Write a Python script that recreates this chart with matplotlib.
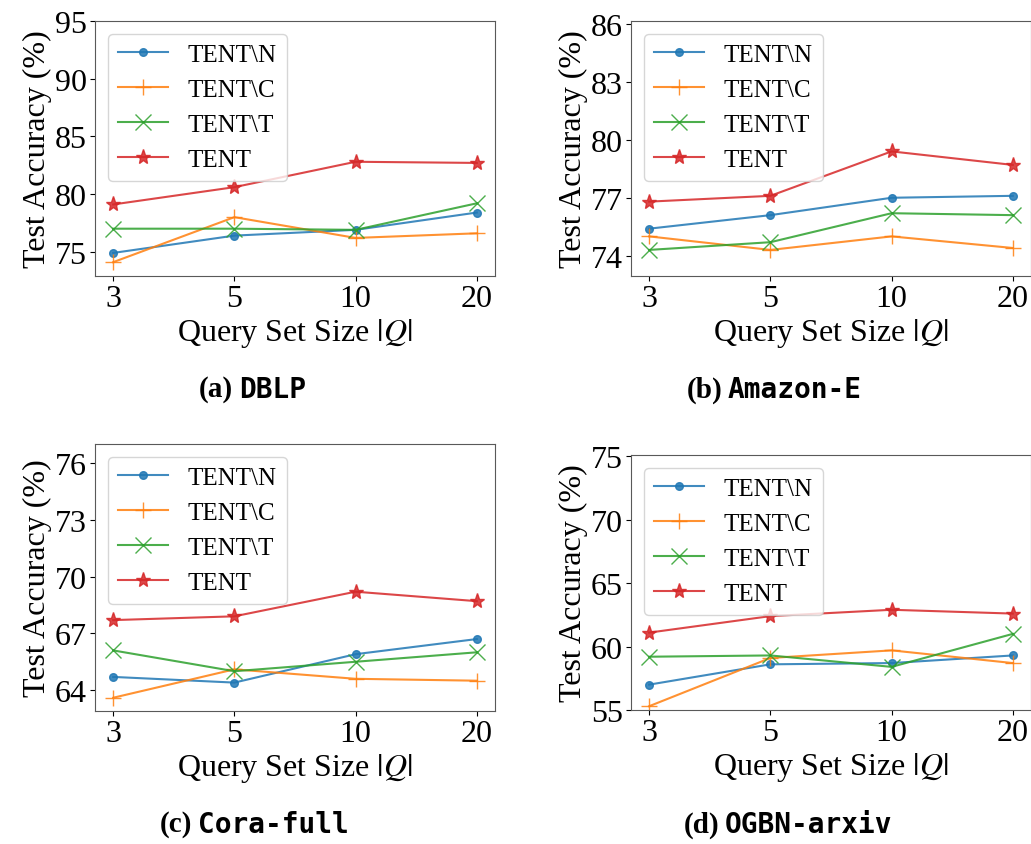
import matplotlib
matplotlib.use('Agg')
import matplotlib.pyplot as plt

plt.rcParams['font.family'] = ['Liberation Serif', 'DejaVu Serif']
plt.rcParams['mathtext.fontset'] = 'stix'

sizes = ['3', '5', '10', '20']
names = ['TENT\\N', 'TENT\\C', 'TENT\\T', 'TENT']

# DBLP
dblp_n = [74.9, 76.4, 76.9, 78.4]
dblp_c = [74.1, 78.0, 76.2, 76.6]
dblp_t = [77.0, 77.0, 76.9, 79.2]
dblp_tent = [79.1, 80.6, 82.8, 82.7]

# Amazon-E
amaz_n = [75.4, 76.1, 77.0, 77.1]
amaz_c = [75.0, 74.3, 75.0, 74.4]
amaz_t = [74.3, 74.7, 76.2, 76.1]
amaz_tent = [76.8, 77.1, 79.4, 78.7]

# Cora-full
cora_n = [64.7, 64.4, 65.9, 66.7]
cora_c = [63.6, 65.1, 64.6, 64.5]
cora_t = [66.1, 65.0, 65.5, 66.0]
cora_tent = [67.7, 67.9, 69.2, 68.7]

# OGBN-arxiv
ogbn_n = [57.0, 58.6, 58.7, 59.3]
ogbn_c = [55.3, 59.1, 59.7, 58.7]
ogbn_t = [59.2, 59.3, 58.4, 61.0]
ogbn_tent = [61.1, 62.4, 62.9, 62.6]

W, H = 1031, 845
fig = plt.figure(figsize=(W / 100, H / 100), dpi=100)

def px_axes(left, top, right, bottom):
    return fig.add_axes([left / W, 1 - bottom / H, (right - left) / W, (bottom - top) / H])

panels = [
    (px_axes(95, 22, 495, 277), [dblp_n, dblp_c, dblp_t, dblp_tent], (72.9, 95), [75, 80, 85, 90, 95]),
    (px_axes(631, 22, 1031, 277), [amaz_n, amaz_c, amaz_t, amaz_tent], (72.95, 86.15), [74, 77, 80, 83, 86]),
    (px_axes(95, 445, 495, 712), [cora_n, cora_c, cora_t, cora_tent], (62.9, 77.0), [64, 67, 70, 73, 76]),
    (px_axes(631, 456, 1031, 711), [ogbn_n, ogbn_c, ogbn_t, ogbn_tent], (55, 75.1), [55, 60, 65, 70, 75]),
]

styles = [('tab:blue', 'o', 5.5), ('tab:orange', '+', 11), ('tab:green', 'x', 11), ('tab:red', '*', 11)]

for ax, series, ylim, yt in panels:
    x = range(len(sizes))
    for vals, name, (c, m, ms) in zip(series, names, styles):
        ax.plot(x, vals, color=c, marker=m, ms=ms, lw=1.5, alpha=0.85, label=name)
    ax.set_xticks(list(x))
    ax.set_xticklabels(sizes)
    ax.set_ylim(*ylim)
    ax.set_yticks(yt)
    ax.tick_params(labelsize=23, pad=2.5)
    for s in ax.spines.values():
        s.set_color('0.35')
    ax.set_xlabel('Query Set Size $|Q|$', fontsize=23, labelpad=2)
    ax.set_ylabel('Test Accuracy (%)', fontsize=23, labelpad=2)
    ax.legend(loc='upper left', fontsize=18)

# sub-captions: serif bold label + monospace dataset name
captions = [((236, 390), '(a)', 'DBLP'), ((725, 390), '(b)', 'Amazon-E'),
            ((195, 825), '(c)', 'Cora-full'), ((722, 825), '(d)', 'OGBN-arxiv')]
for (cx, cy), tag, name in captions:
    fig.text((cx - 3) / W, 1 - cy / H, tag, ha='right', va='center', fontsize=21,
             fontweight='bold', family='Liberation Serif')
    fig.text((cx + 3) / W, 1 - cy / H, name, ha='left', va='center', fontsize=20,
             fontweight='bold', family='DejaVu Sans Mono')

plt.savefig('out.png', dpi=100)
